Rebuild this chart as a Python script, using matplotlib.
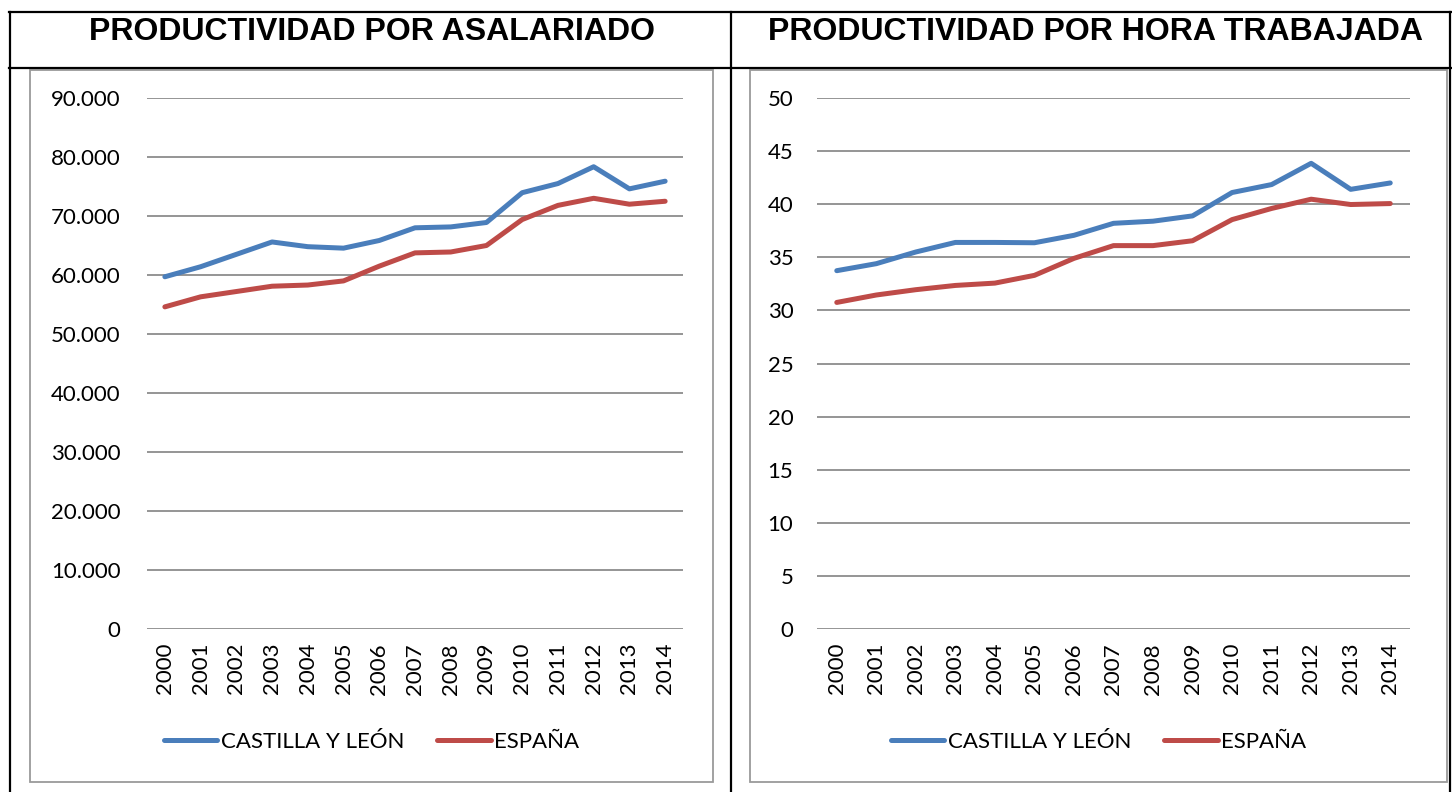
import matplotlib
matplotlib.use("Agg")
import matplotlib.pyplot as plt
from matplotlib.lines import Line2D
from matplotlib.patches import Rectangle
from matplotlib.ticker import FuncFormatter

years = [str(y) for y in range(2000, 2015)]

# productividad por asalariado (euros)
cyl_asal = [59700, 61400, 63500, 65600, 64800, 64550, 65850, 68000, 68150, 68900,
            73950, 75500, 78350, 74600, 75900]
esp_asal = [54600, 56300, 57200, 58100, 58300, 59000, 61500, 63750, 63900, 65000,
            69400, 71800, 73000, 72000, 72500]

# productividad por hora trabajada (euros)
cyl_hora = [33.74, 34.4, 35.5, 36.4, 36.4, 36.37, 37.07, 38.2, 38.4, 38.9,
            41.1, 41.85, 43.85, 41.4, 42.0]
esp_hora = [30.75, 31.45, 31.95, 32.35, 32.57, 33.3, 34.9, 36.1, 36.1, 36.56,
            38.55, 39.6, 40.47, 39.97, 40.06]

titles = ["PRODUCTIVIDAD POR ASALARIADO", "PRODUCTIVIDAD POR HORA TRABAJADA"]
series_names = ["CASTILLA Y LEÓN", "ESPAÑA"]
colors = ["#4A7EBB", "#BE4B48"]

W, H = 1452, 792
fig = plt.figure(figsize=(W / 100, H / 100), dpi=100)
tick_font = ["Lato", "DejaVu Sans"]
fsize = 16


def fx(px):
    return px / W


def fy(py):
    return 1 - py / H


def hline(x0, x1, y, **kw):
    fig.add_artist(Line2D([fx(x0), fx(x1)], [fy(y), fy(y)], transform=fig.transFigure, **kw))


def vline(x, y0, y1, **kw):
    fig.add_artist(Line2D([fx(x), fx(x)], [fy(y0), fy(y1)], transform=fig.transFigure, **kw))


# table borders
tbl = dict(color="black", lw=1.6)
hline(9, 1451, 12, **tbl)
hline(9, 1451, 68, **tbl)
vline(10, 12, 792, **tbl)
vline(731, 12, 792, **tbl)
vline(1450, 12, 792, **tbl)

# titles
for cx, t in zip([372, 1096], titles):
    fig.text(fx(cx), fy(32), t, ha="center", va="center", fontsize=23,
             fontweight="bold", family=["Liberation Sans", "DejaVu Sans"])

panels = [
    dict(box=(30, 70, 713, 782), plot=(147, 98, 683, 629), ymax=90000, step=10000,
         ypad=19, data=(cyl_asal, esp_asal),
         fmt=lambda v, p: f"{int(v):,}".replace(",", ".")),
    dict(box=(750, 70, 1447, 782), plot=(817, 98, 1410, 629), ymax=50, step=5,
         ypad=17, data=(cyl_hora, esp_hora), fmt=lambda v, p: f"{int(v)}"),
]

for pn in panels:
    bx0, by0, bx1, by1 = pn["box"]
    fig.add_artist(Rectangle((fx(bx0), fy(by1)), fx(bx1 - bx0), (by1 - by0) / H,
                             transform=fig.transFigure, fill=False,
                             edgecolor="#9A9A9A", lw=1.3))
    px0, py0, px1, py1 = pn["plot"]
    ax = fig.add_axes([fx(px0), fy(py1), fx(px1 - px0), (py1 - py0) / H])
    x = range(len(years))
    for vals, name, c in zip(pn["data"], series_names, colors):
        ax.plot(x, vals, color=c, lw=3.6, label=name, solid_capstyle="round", zorder=3)
    ax.set_ylim(0, pn["ymax"])
    ax.set_yticks(range(0, pn["ymax"] + 1, pn["step"]))
    ax.yaxis.set_major_formatter(FuncFormatter(pn["fmt"]))
    ax.set_xlim(-0.5, len(years) - 0.5)
    ax.set_xticks(list(x))
    ax.set_xticklabels(years, rotation=90)
    ax.grid(axis="y", color="#8C8C8C", lw=1.3)
    ax.set_axisbelow(True)
    for s in ax.spines.values():
        s.set_visible(False)
    ax.tick_params(length=0, labelsize=fsize, colors="black")
    ax.tick_params(axis="y", pad=pn["ypad"])
    ax.tick_params(axis="x", pad=10)
    for lab in ax.get_xticklabels() + ax.get_yticklabels():
        lab.set_family(tick_font)
    ax.legend(loc="center", bbox_to_anchor=(fx((bx0 + bx1) / 2), fy(742)),
              bbox_transform=fig.transFigure, ncol=2, frameon=False,
              handlelength=2.4, handletextpad=0.15, columnspacing=1.5,
              prop=dict(family=tick_font, size=fsize))

fig.savefig("out.png", dpi=100)
